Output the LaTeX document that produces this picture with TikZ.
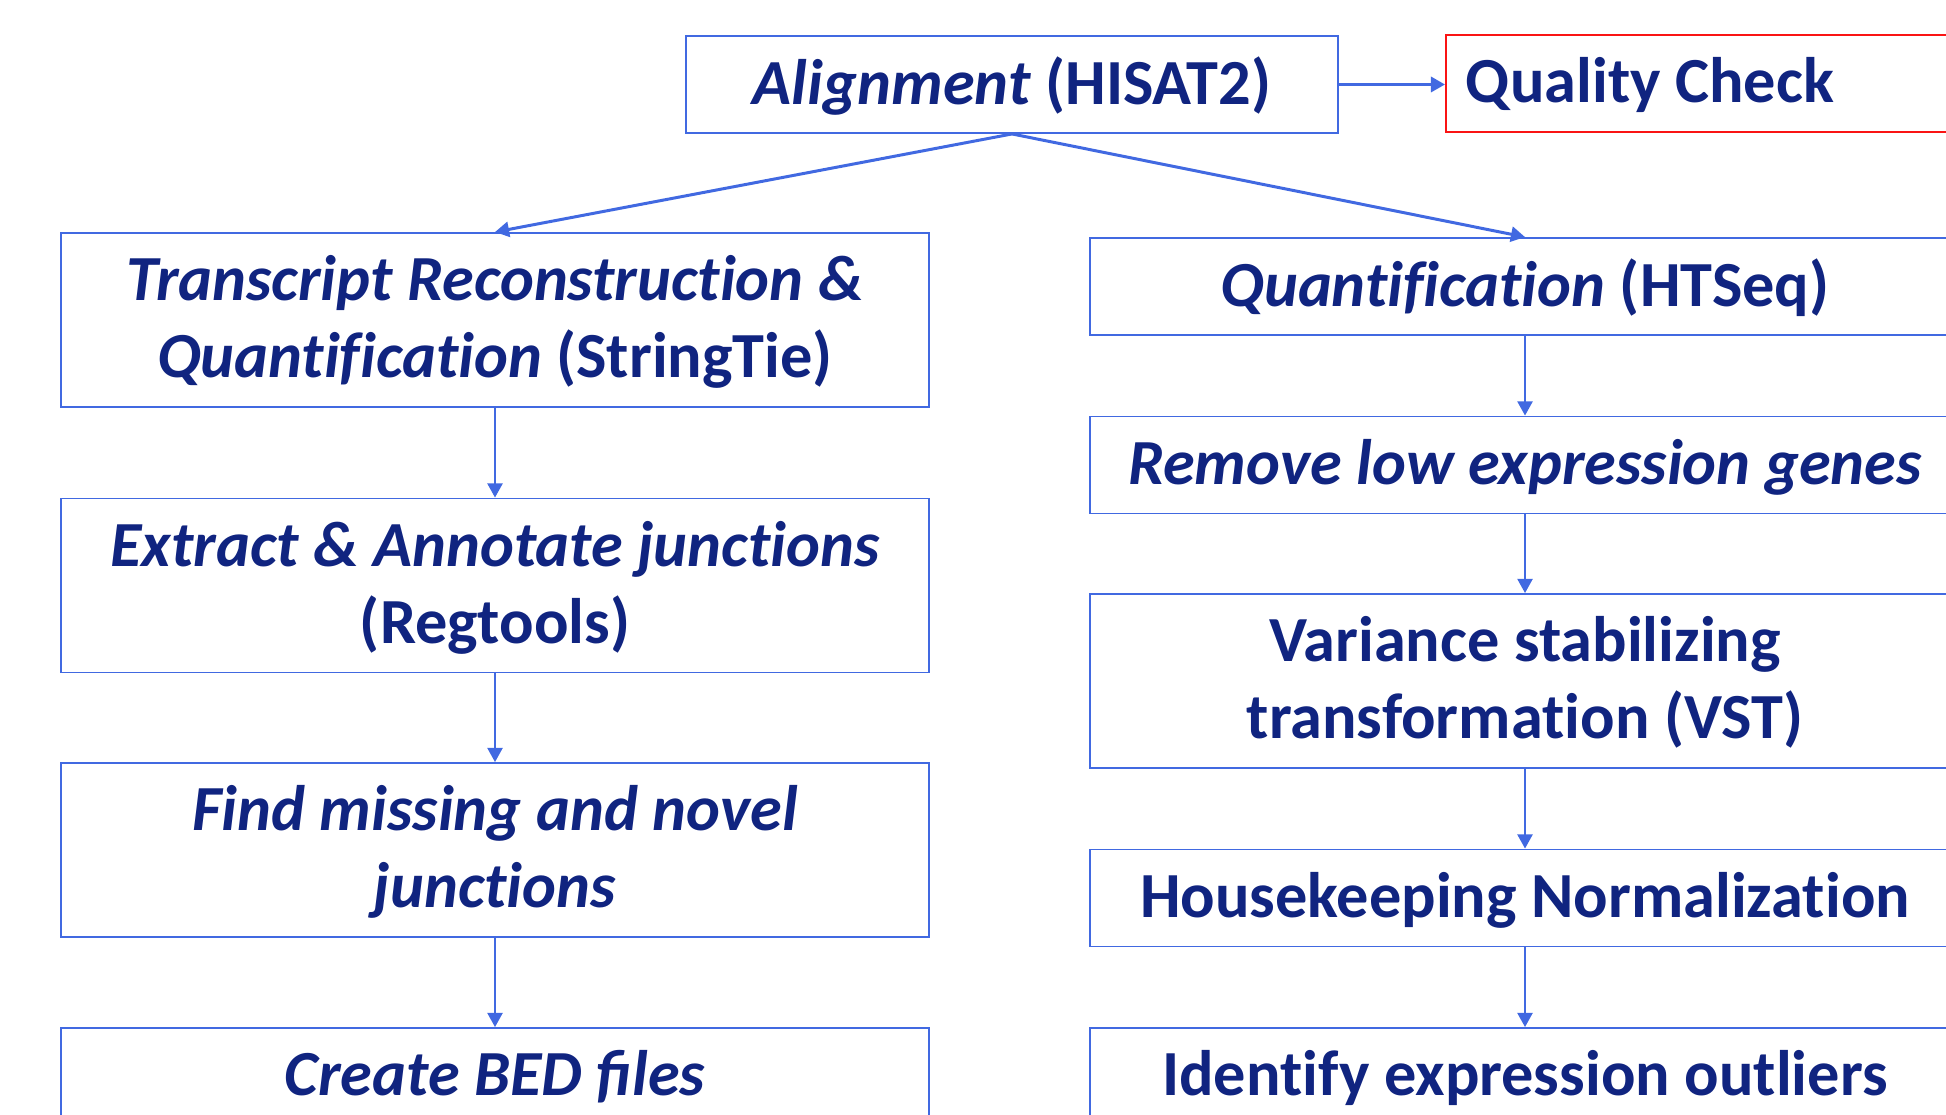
\documentclass[tikz,border=0pt]{standalone}
\usepackage{fontspec}
\setmainfont{Carlito}[Ligatures=NoCommon]
\usetikzlibrary{arrows.meta}

\definecolor{navy}{RGB}{16,36,128}
\definecolor{flowblue}{RGB}{65,105,225}
\definecolor{qcred}{RGB}{250,20,20}

\tikzset{
  stepbox/.style={draw=flowblue, line width=0.55pt, text=navy, align=center,
    font=\bfseries\fontsize{18.3}{21.9}\selectfont, inner sep=0pt, text depth=2pt,
    minimum width=8.68cm, minimum height=0.97cm},
  tallbox/.style={stepbox, minimum height=1.74cm},
  flow/.style={draw=flowblue, line width=0.5pt, -{Triangle[length=4pt,width=4.3pt]}},
  mainflow/.style={flow, line width=0.85pt},
}

\begin{document}
\begin{tikzpicture}
    \useasboundingbox (0,0) rectangle (19.46,-11.15);
    \clip (0,0) rectangle (19.46,-11.15);

    % top row
    \node[stepbox, minimum width=6.52cm] (align) at (10.12,-0.845) {\textit{Alignment} (HISAT2)};
    \node[stepbox, draw=qcred, minimum width=6.5cm, text width=6.3cm, align=flush left,
      inner xsep=0.2cm, anchor=west] (qc) at (14.45,-0.835) {Quality Check};

    % left column
    \node[tallbox] (recon) at (4.95,-3.20) {\textit{Transcript Reconstruction \&}\\\textit{Quantification} (StringTie)};
    \node[tallbox] (junc) at (4.95,-5.855) {\textit{Extract \& Annotate junctions}\\(Regtools)};
    \node[tallbox] (novel) at (4.95,-8.50) {\textit{Find missing and novel}\\\textit{junctions}};
    \node[stepbox] (bed) at (4.95,-10.765) {\textit{Create BED ﬁles}};

    % right column
    \node[stepbox, minimum width=8.70cm] (quant) at (15.25,-2.865) {\textit{Quantification} (HTSeq)};
    \node[stepbox, minimum width=8.70cm] (lowexp) at (15.25,-4.65) {\textit{Remove low expression genes}};
    \node[tallbox, minimum width=8.70cm] (vst) at (15.25,-6.81) {Variance stabilizing\\transformation (VST)};
    \node[stepbox, minimum width=8.70cm] (hk) at (15.25,-8.98) {Housekeeping Normalization};
    \node[stepbox, minimum width=8.70cm] (outl) at (15.25,-10.765) {Identify expression outliers};

    % connectors
    \draw[mainflow] (align.east) -- (qc.west |- align.east);
    \draw[mainflow] (align.south) -- (recon.north);
    \draw[mainflow] (align.south) -- (quant.north);
    \draw[flow] (recon) -- (junc);
    \draw[flow] (junc) -- (novel);
    \draw[flow] (novel) -- (bed);
    \draw[flow] (quant) -- (lowexp);
    \draw[flow] (lowexp) -- (vst);
    \draw[flow] (vst) -- (hk);
    \draw[flow] (hk) -- (outl);
\end{tikzpicture}
\end{document}
